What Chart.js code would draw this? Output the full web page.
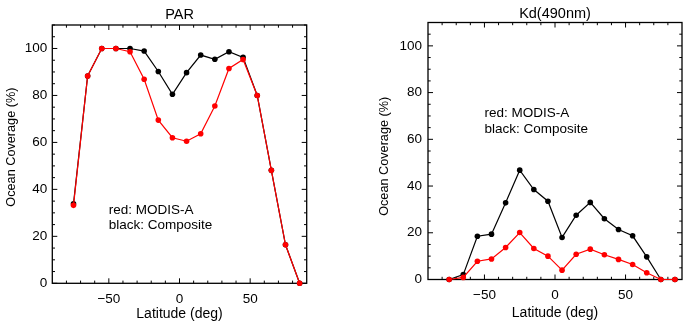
<!DOCTYPE html>
<html lang="en">
<head>
  <meta charset="UTF-8">
  <title>Ocean Coverage by Latitude</title>
  <script src="https://cdn.jsdelivr.net/npm/chart.js"></script>
  <style>
    body { margin: 0; background: #fff; }
    .wrap { position: relative; width: 686px; height: 325px; background: #fff; }
    .panel { position: absolute; top: 0; width: 343px; height: 325px; }
    #leftPanel { left: 0; }
    #rightPanel { left: 343px; }
  </style>
</head>
<body>
  <div class="wrap">
    <div class="panel" id="leftPanel"><canvas id="parChart" width="343" height="325"></canvas></div>
    <div class="panel" id="rightPanel"><canvas id="kdChart" width="343" height="325"></canvas></div>
  </div>

  <script>
    // latitude bin centres (deg)
    const latitudes = [-75, -65, -55, -45, -35, -25, -15, -5, 5, 15, 25, 35, 45, 55, 65, 75, 85];

    // PAR ocean coverage (%)
    const parComposite = [33.9, 88.3, 100, 100, 100, 98.9, 90.2, 80.5, 89.7, 97.2, 95.4, 98.6, 96.2, 80, 48.1, 16.4, 0];
    const parModis     = [33.2, 88.3, 100, 100, 98.6, 86.9, 69.5, 62, 60.5, 63.7, 75.5, 91.5, 95.3, 80, 48.1, 16.4, 0];

    // Kd(490nm) ocean coverage (%)
    const kdComposite = [0, 2.1, 18.5, 19.4, 32.8, 46.8, 38.5, 33.5, 18, 27.5, 33, 26, 21.4, 18.7, 9.7, 0, 0];
    const kdModis     = [0, 0.9, 7.8, 8.8, 13.7, 20.1, 13.3, 10, 4, 10.8, 13, 10.6, 8.6, 6.4, 2.9, 0, 0];

    const xTicks = [-50, 0, 50];
    const yTicks = [0, 20, 40, 60, 80, 100];

    Chart.defaults.font.family = '"Liberation Sans", Arial, sans-serif';
    Chart.defaults.color = '#000';

    // box round the plot with IDL-style inward ticks on all four sides
    const frameTicks = {
      id: 'frameTicks',
      beforeDatasetsDraw(chart) {
        const { ctx, chartArea: a, scales: { x, y } } = chart;
        ctx.save();
        ctx.strokeStyle = '#000';
        ctx.lineWidth = 1;
        ctx.beginPath();
        for (let v = y.min; v <= y.max; v += 5) {
          const len = yTicks.includes(v) ? 5 : 2.7;
          const py = y.getPixelForValue(v);
          ctx.moveTo(a.left, py); ctx.lineTo(a.left + len, py);
          ctx.moveTo(a.right, py); ctx.lineTo(a.right - len, py);
        }
        for (let v = x.min + 10; v < x.max; v += 10) {
          const len = xTicks.includes(v) ? 5 : 2.7;
          const px = x.getPixelForValue(v);
          ctx.moveTo(px, a.bottom); ctx.lineTo(px, a.bottom - len);
          ctx.moveTo(px, a.top); ctx.lineTo(px, a.top + len);
        }
        ctx.stroke();
        ctx.lineWidth = 1.3;
        ctx.strokeRect(a.left, a.top, a.right - a.left, a.bottom - a.top);
        ctx.restore();
      }
    };

    // the two-line "red: / black:" note inside the plot
    const noteText = {
      id: 'noteText',
      afterDraw(chart, args, opts) {
        const { ctx, scales: { x, y } } = chart;
        ctx.save();
        ctx.font = '13.5px "Liberation Sans", Arial, sans-serif';
        ctx.fillStyle = '#000';
        ctx.textBaseline = 'middle';
        ctx.fillText('red: MODIS-A', x.getPixelForValue(opts.x), y.getPixelForValue(opts.y1));
        ctx.fillText('black: Composite', x.getPixelForValue(opts.x), y.getPixelForValue(opts.y2));
        ctx.restore();
      }
    };

    function makePanel(id, title, composite, modis, g) {
      return new Chart(document.getElementById(id), {
        type: 'line',
        data: {
          datasets: [
            {
              label: 'MODIS-A',
              data: latitudes.map((lat, i) => ({ x: lat, y: modis[i] })),
              borderColor: '#ff0000',
              backgroundColor: '#ff0000',
              borderWidth: 1.2,
              pointRadius: 2.8,
              pointBorderWidth: 0,
              clip: false,
              order: 0
            },
            {
              label: 'Composite',
              data: latitudes.map((lat, i) => ({ x: lat, y: composite[i] })),
              borderColor: '#000',
              backgroundColor: '#000',
              borderWidth: 1.2,
              pointRadius: 2.8,
              pointBorderWidth: 0,
              clip: false,
              order: 1
            }
          ]
        },
        options: {
          responsive: false,
          animation: false,
          layout: { padding: { left: g.padLeft, right: g.padRight, top: 0, bottom: 0 } },
          plugins: {
            legend: { display: false },
            tooltip: { enabled: false },
            title: {
              display: true,
              text: title,
              fullSize: false,
              color: '#000',
              font: { size: 14.5, weight: 'normal', lineHeight: 1 },
              padding: { top: g.titleTop, bottom: g.titleBottom }
            },
            noteText: g.note
          },
          scales: {
            x: {
              type: 'linear',
              min: -90,
              max: 90,
              afterBuildTicks: s => { s.ticks = xTicks.map(v => ({ value: v })); },
              afterFit: s => { s.height = g.xHeight; },
              grid: { display: false, drawTicks: false },
              border: { display: false },
              ticks: {
                padding: g.xTickPad,
                maxRotation: 0,
                font: { size: 13.5 },
                callback: v => String(v).replace('-', '\u2212')
              },
              title: {
                display: true,
                text: 'Latitude (deg)',
                font: { size: 14 },
                padding: { top: 0, bottom: g.xTitlePad }
              }
            },
            y: {
              type: 'linear',
              min: 0,
              max: 110,
              afterBuildTicks: s => { s.ticks = yTicks.map(v => ({ value: v })); },
              afterFit: s => { s.width = g.yWidth; },
              grid: { display: false, drawTicks: false },
              border: { display: false },
              ticks: { padding: g.yTickPad, font: { size: 13.5 } },
              title: {
                display: true,
                text: g.yTitle,
                font: { size: 12.7 },
                padding: { top: 4, bottom: 0 }
              }
            }
          }
        },
        plugins: [frameTicks, noteText]
      });
    }

    makePanel('parChart', 'PAR', parComposite, parModis, {
      padLeft: 0, padRight: 36.3, titleTop: 8, titleBottom: 2.5,
      xHeight: 41.7, yWidth: 52.3, xTickPad: 7.6, xTitlePad: 2.6, yTickPad: 5,
      yTitle: '    Ocean Coverage (%)',
      note: { x: -50, y1: 31, y2: 24.5 }
    });

    makePanel('kdChart', 'Kd(490nm)', kdComposite, kdModis, {
      padLeft: 30, padRight: 3.6, titleTop: 6.5, titleBottom: 1.5,
      xHeight: 45.5, yWidth: 55, xTickPad: 7.4, xTitlePad: 3.3, yTickPad: 6,
      yTitle: 'Ocean Coverage (%)   ',
      note: { x: -50, y1: 71.2, y2: 64.5 }
    });
  </script>
</body>
</html>
